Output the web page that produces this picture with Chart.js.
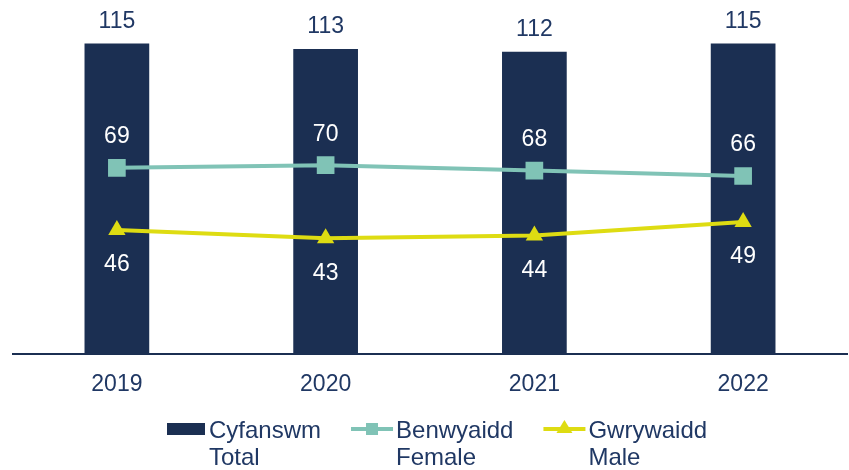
<!DOCTYPE html>
<html>
<head>
<meta charset="utf-8">
<script src="https://cdn.jsdelivr.net/npm/chart.js@4.4.0/dist/chart.umd.min.js"></script>
<style>
    html, body { margin: 0; padding: 0; background: #fff; overflow: hidden; }
    #wrap { position: relative; width: 860px; height: 470px; }
</style>
</head>
<body>
<div id="wrap"><canvas id="chart" width="860" height="470"></canvas></div>
<script>
// data
const years = ['2019', '2020', '2021', '2022'];
const totalValues = [115, 113, 112, 115];
const femaleValues = [69, 70, 68, 66];
const maleValues = [46, 43, 44, 49];
const legendLabels = [['Cyfanswm', 'Total'], ['Benwyaidd', 'Female'], ['Gwrywaidd', 'Male']];

const NAVY = '#1b2f52';
const TEXT = '#203864';
const TEAL = '#80c3b6';
const YELLOW = '#dedc12';
const FONT = '"Liberation Sans", Arial, sans-serif';

// value labels (no datalabels plugin available offline)
const valueLabels = {
    id: 'valueLabels',
    afterDatasetsDraw(chart) {
        const ctx = chart.ctx;
        const setup = [
            { dy: -22, color: TEXT },
            { dy: -31, color: '#ffffff' },
            { dy: 35, color: '#ffffff' }
        ];
        ctx.save();
        ctx.font = '23px ' + FONT;
        ctx.textAlign = 'center';
        ctx.textBaseline = 'middle';
        chart.data.datasets.forEach((ds, i) => {
            const meta = chart.getDatasetMeta(i);
            meta.data.forEach((el, j) => {
                ctx.fillStyle = setup[i].color;
                ctx.fillText(String(ds.data[j]), el.x, el.y + setup[i].dy);
            });
        });
        ctx.restore();
    }
};

// legend with two-line labels
const twoLineLegend = {
    id: 'twoLineLegend',
    afterDraw(chart) {
        const ctx = chart.ctx;
        const markY = 429;
        let x = 167;
        ctx.save();
        ctx.font = '24px ' + FONT;
        ctx.textBaseline = 'alphabetic';
        ctx.textAlign = 'left';
        chart.data.datasets.forEach((ds, i) => {
            if (i === 0) {
                ctx.fillStyle = NAVY;
                ctx.fillRect(x, markY - 6, 38, 12);
            } else {
                ctx.strokeStyle = ds.borderColor;
                ctx.lineWidth = 4;
                ctx.beginPath();
                ctx.moveTo(x, markY);
                ctx.lineTo(x + 42, markY);
                ctx.stroke();
                ctx.fillStyle = ds.borderColor;
                if (i === 1) {
                    ctx.fillRect(x + 15, markY - 6, 12, 12);
                } else {
                    ctx.beginPath();
                    ctx.moveTo(x + 21, markY - 9);
                    ctx.lineTo(x + 29, markY + 4);
                    ctx.lineTo(x + 13, markY + 4);
                    ctx.closePath();
                    ctx.fill();
                }
            }
            const tx = x + (i === 0 ? 42 : 45);
            ctx.fillStyle = TEXT;
            ctx.fillText(legendLabels[i][0], tx, 438);
            ctx.fillText(legendLabels[i][1], tx, 465);
            x = tx + ctx.measureText(legendLabels[i][0]).width + 30;
        });
        ctx.restore();
    }
};

new Chart(document.getElementById('chart'), {
    type: 'bar',
    data: {
        labels: years,
        datasets: [
            {
                type: 'bar',
                label: 'Cyfanswm Total',
                data: totalValues,
                backgroundColor: NAVY,
                barPercentage: 1,
                categoryPercentage: 0.31,
                order: 3
            },
            {
                type: 'line',
                label: 'Benwyaidd Female',
                data: femaleValues,
                borderColor: TEAL,
                backgroundColor: TEAL,
                borderWidth: 4,
                pointStyle: 'rect',
                pointRadius: 12.5,
                pointBorderWidth: 0,
                pointBackgroundColor: TEAL,
                order: 1
            },
            {
                type: 'line',
                label: 'Gwrywaidd Male',
                data: maleValues,
                borderColor: YELLOW,
                backgroundColor: YELLOW,
                borderWidth: 4,
                pointStyle: 'triangle',
                pointRadius: 10,
                pointBorderWidth: 0,
                pointBackgroundColor: YELLOW,
                order: 0
            }
        ]
    },
    options: {
        responsive: false,
        devicePixelRatio: 1,
        animation: false,
        layout: { padding: { left: 10, right: 0, top: 30, bottom: 56 } },
        plugins: {
            legend: { display: false },
            tooltip: { enabled: false }
        },
        scales: {
            x: {
                grid: { display: false, drawTicks: false },
                border: { display: true, color: NAVY, width: 2 },
                ticks: { color: TEXT, padding: 16, font: { size: 23, family: FONT } }
            },
            y: { display: false, min: 0, max: 120 }
        }
    },
    plugins: [valueLabels, twoLineLegend]
});
</script>
</body>
</html>
